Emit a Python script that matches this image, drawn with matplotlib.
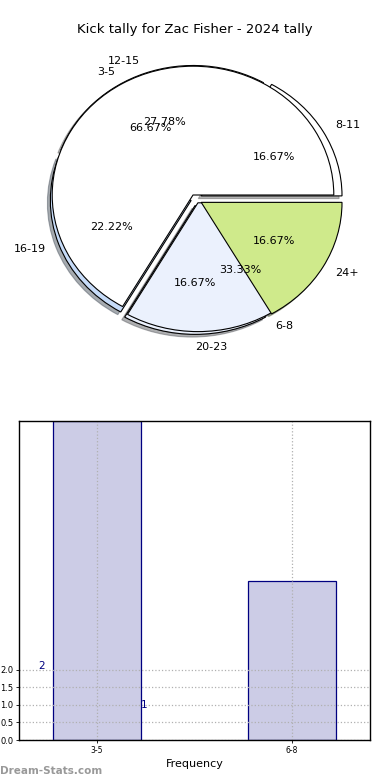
import matplotlib
matplotlib.use("Agg")
import matplotlib.pyplot as plt
import matplotlib.patches as mpatches
import numpy as np

TITLE = "Kick tally for Zac Fisher - 2024 tally"

# the main tally (two bins)
main_labels = ["3-5", "6-8"]
main_counts = [2, 1]
main_colors = ["#ffffff", "#ebf1fd"]

# the second set of bins drawn under it
extra_labels = ["8-11", "12-15", "16-19", "20-23", "24+"]
extra_counts = [3, 5, 4, 3, 3]
extra_colors = ["#ffffff", "#ffffff", "#c6dbf8", "#ebf1fd", "#cfea8b"]

bar_labels = ["3-5", "6-8"]
bar_counts = [2, 1]
ytick_vals = [0.0, 0.5, 1.0, 1.5, 2.0]

SHADOW = dict(ox=-0.015, oy=-0.015, shade=0.6)

fig = plt.figure(figsize=(3.9, 7.8), dpi=100)
fig.text(0.5, 1 - 30 / 780, TITLE, ha="center", va="center", fontsize=9.5)

# ---- pie ----
ax_pie = fig.add_axes([17 / 390, (780 - 356) / 780, 352 / 390, 322 / 780])
w_b, t_b, a_b = ax_pie.pie(
    extra_counts,
    labels=extra_labels,
    colors=extra_colors,
    explode=[0.05, 0.04, 0.03, 0.05, 0.05],
    center=(0.015, -0.032),
    autopct="%.2f%%",
    shadow=SHADOW,
    startangle=0,
    wedgeprops=dict(edgecolor="black", linewidth=0.8),
    textprops=dict(fontsize=8),
)
t_b[3].set_ha("left")
w_b[4].set_zorder(2)

w_a, t_a, a_a = ax_pie.pie(
    main_counts,
    labels=main_labels,
    colors=main_colors,
    explode=[0, 0.07],
    autopct="%.2f%%",
    shadow=SHADOW,
    startangle=0,
    wedgeprops=dict(edgecolor="black", linewidth=0.8),
    textprops=dict(fontsize=8),
)
# no shadow under the big white wedge
for p in list(ax_pie.patches):
    if isinstance(p, mpatches.Shadow) and p.patch is w_a[0]:
        p.remove()
for t in list(t_a) + list(a_a):
    t.set_zorder(3)

ax_pie.set_aspect("auto")
ax_pie.set_xlim(-1.25, 1.25)
ax_pie.set_ylim(-1.25, 1.25)

# ---- bars ----
rect = [19 / 390, 40 / 780, 351 / 390, 319 / 780]
x = np.arange(len(bar_labels))

ax_bar = fig.add_axes(rect)
ax_bar.bar(x, bar_counts, width=0.45, color="#ccccE6", edgecolor="#000080", linewidth=0.9)
ax_bar.set_xlim(-0.4, 1.4)
ax_bar.set_ylim(0, 2)
ax_bar.axis("off")

ax = fig.add_axes(rect)
ax.patch.set_alpha(0)
ax.set_xlim(-0.4, 1.4)
ax.set_ylim(0, 9.11)
ax.set_yticks(ytick_vals)
ax.set_yticklabels([f"{v:.1f}" for v in ytick_vals], fontsize=6)
ax.set_xticks(x)
ax.set_xticklabels(bar_labels, fontsize=5.5)
ax.tick_params(length=2, width=0.6, pad=2)
ax.grid(True, linestyle=":", color="#b0b0b0", linewidth=0.9)
ax.set_xlabel("Frequency", fontsize=8, labelpad=3)
for s in ax.spines.values():
    s.set_linewidth(1.0)

ax.text(-0.3, 2.1, str(bar_counts[0]), color="#000080", fontsize=7.5, va="center", ha="left")
ax.text(0.225, 1.0, str(bar_counts[1]), color="#000080", fontsize=7.5, va="center", ha="left")

fig.text(0.0, 1 - 771 / 780, "Dream-Stats.com", color="#999999", fontsize=7.5,
         fontweight="bold", ha="left", va="center")

fig.savefig("out.png", dpi=100)
